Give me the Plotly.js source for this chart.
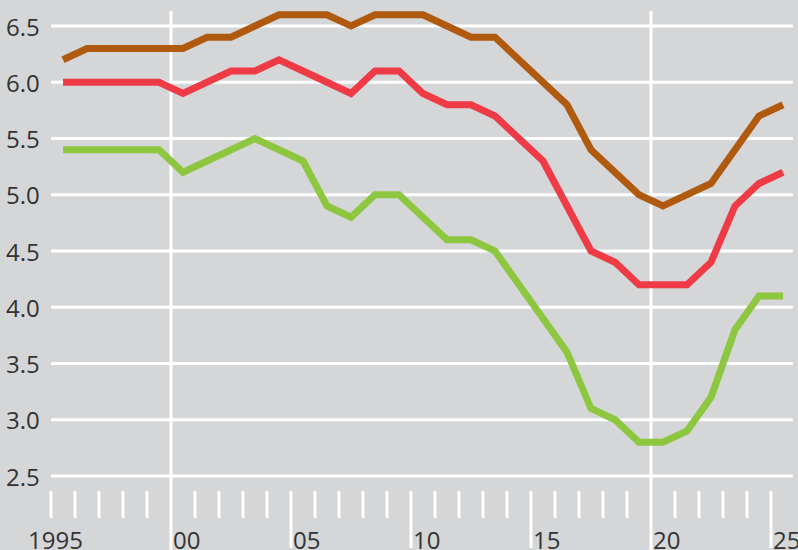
<!DOCTYPE html>
<html>
<head>
<meta charset="utf-8">
<script src="https://cdn.plot.ly/plotly-3.0.1.min.js"></script>
<style>html,body{margin:0;padding:0;background:#d5d6d8;}#chart{width:798px;height:550px;}</style>
</head>
<body>
<div id="chart"></div>
<script>
const years = [1995,1996,1997,1998,1999,2000,2001,2002,2003,2004,2005,2006,2007,2008,2009,2010,2011,2012,2013,2014,2015,2016,2017,2018,2019,2020,2021,2022,2023,2024,2025];
const brown = [6.2,6.3,6.3,6.3,6.3,6.3,6.4,6.4,6.5,6.6,6.6,6.6,6.5,6.6,6.6,6.6,6.5,6.4,6.4,6.2,6.0,5.8,5.4,5.2,5.0,4.9,5.0,5.1,5.4,5.7,5.8];
const red   = [6.0,6.0,6.0,6.0,6.0,5.9,6.0,6.1,6.1,6.2,6.1,6.0,5.9,6.1,6.1,5.9,5.8,5.8,5.7,5.5,5.3,4.9,4.5,4.4,4.2,4.2,4.2,4.4,4.9,5.1,5.2];
const green = [5.4,5.4,5.4,5.4,5.4,5.2,5.3,5.4,5.5,5.4,5.3,4.9,4.8,5.0,5.0,4.8,4.6,4.6,4.5,4.2,3.9,3.6,3.1,3.0,2.8,2.8,2.9,3.2,3.8,4.1,4.1];
const yTicks = [2.5,3.0,3.5,4.0,4.5,5.0,5.5,6.0,6.5];
const yTickLabels = ["2.5","3.0","3.5","4.0","4.5","5.0","5.5","6.0","6.5"];
const xTicks = [1995,2000,2005,2010,2015,2020,2025];
const xTickLabels = ["1995","00","05","10","15","20","25"];

const X0 = 1992.875, X1 = 2026.125, Y0 = 1.8422, Y1 = 6.7311;
const pxX = p => X0 + p/24;
const pxY = p => 6.5 - (p-26)/112.5;

const mid = years.map(y => y + 0.5);
function tr(vals, color){
  return {x: mid, y: vals, type:'scatter', mode:'lines', line:{color:color, width:7}, hoverinfo:'skip', showlegend:false};
}
const data = [tr(green,'#8dc63f'), tr(red,'#ef3b46'), tr(brown,'#b05a10')];

const shapes = [];
const W = '#ffffff';
yTicks.forEach(v => shapes.push({type:'line', layer:'below', xref:'x', yref:'y', x0:1995, x1:pxX(793), y0:v, y1:v, line:{color:W, width:3}}));
years.forEach(yr => {
  let top, bot;
  if (yr === 2000 || yr === 2020) { top = pxY(11); bot = Y0; }
  else if (yr % 5 === 0 && yr !== 1995) { top = pxY(491); bot = pxY(548); }
  else { top = pxY(491); bot = pxY(518); }
  shapes.push({type:'line', layer:'below', xref:'x', yref:'y', x0:yr, x1:yr, y0:top, y1:bot, line:{color:W, width:3}});
});

const ann = [];
const font = {family:'Open Sans, Noto Sans, sans-serif', size:24, color:'#333333'};
yTicks.forEach((v,i) => ann.push({xref:'x', yref:'y', x:pxX(42), y:v, xanchor:'right', yanchor:'middle', text:yTickLabels[i], showarrow:false, font:font}));
xTicks.forEach((v,i) => {
  const isFirst = i === 0;
  ann.push({xref:'x', yref:'y', x: isFirst ? pxX(55.5) : v - 0.02, y:pxY(539), xanchor: isFirst ? 'center' : 'left', yanchor:'middle', text:xTickLabels[i], showarrow:false, font:font});
});

const layout = {
  width:798, height:550,
  margin:{l:0,r:0,t:0,b:0,pad:0},
  paper_bgcolor:'#d5d6d8', plot_bgcolor:'#d5d6d8',
  xaxis:{range:[X0,X1], visible:false, fixedrange:true},
  yaxis:{range:[Y0,Y1], visible:false, fixedrange:true},
  shapes:shapes, annotations:ann, showlegend:false
};
Plotly.newPlot('chart', data, layout, {staticPlot:true, displayModeBar:false});
</script>
</body>
</html>
